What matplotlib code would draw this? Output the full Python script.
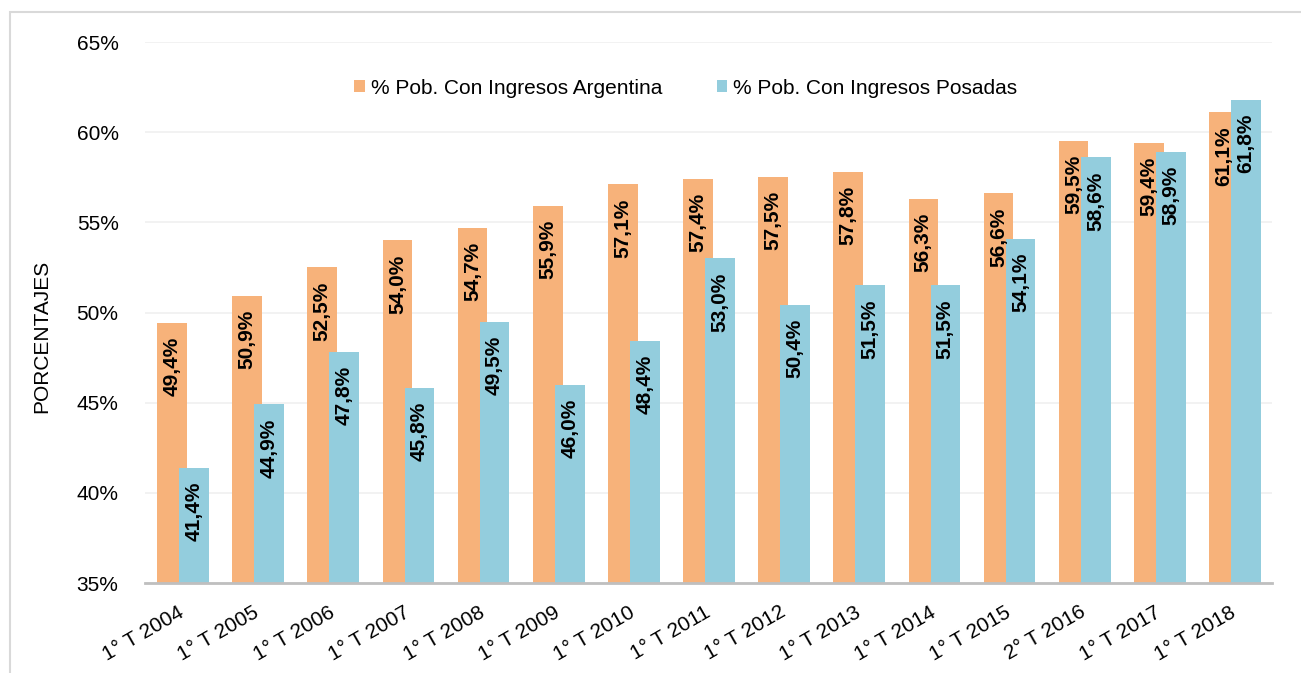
import matplotlib
matplotlib.use("Agg")
import matplotlib.pyplot as plt
import matplotlib.patches as mpatches
import numpy as np

plt.rcParams['font.family'] = ['Liberation Sans', 'DejaVu Sans']

# datos
periodos = ["1° T 2004", "1° T 2005", "1° T 2006", "1° T 2007", "1° T 2008",
            "1° T 2009", "1° T 2010", "1° T 2011", "1° T 2012", "1° T 2013",
            "1° T 2014", "1° T 2015", "2° T 2016", "1° T 2017", "1° T 2018"]
argentina = [49.4, 50.9, 52.5, 54.0, 54.7, 55.9, 57.1, 57.4, 57.5, 57.8,
             56.3, 56.6, 59.5, 59.4, 61.1]
posadas = [41.4, 44.9, 47.8, 45.8, 49.5, 46.0, 48.4, 53.0, 50.4, 51.5,
           51.5, 54.1, 58.6, 58.9, 61.8]
serie_arg = "% Pob. Con Ingresos Argentina"
serie_pos = "% Pob. Con Ingresos Posadas"

col_arg = "#F7B27A"
col_pos = "#93CDDD"

W, H = 1301, 673
fig = plt.figure(figsize=(W / 100, H / 100), dpi=100)
ax = fig.add_axes([145 / W, 1 - 583 / H, (1272 - 145) / W, (583 - 42) / H])

# borde gris del grafico
fig.patches.append(mpatches.Rectangle((10 / W, -0.1), 1.2, 1.1 - 12 / H,
                                      transform=fig.transFigure, fill=False,
                                      edgecolor="#D9D9D9", lw=1.5))

x = np.arange(len(periodos))
ancho = 0.395
b1 = ax.bar(x - 0.14, argentina, ancho, color=col_arg, label=serie_arg, zorder=2)
b2 = ax.bar(x + 0.153, posadas, ancho, color=col_pos, label=serie_pos, zorder=3)

for barras, vals in ((b1, argentina), (b2, posadas)):
    for r, v in zip(barras, vals):
        ax.annotate(f"{v:.1f}%".replace(".", ","),
                    xy=(r.get_x() + r.get_width() / 2, v),
                    xytext=(0, -10), textcoords="offset points",
                    ha="center", va="top", rotation=90,
                    fontsize=15, fontweight="bold", zorder=4)

ax.set_ylim(35, 65)
ax.set_xlim(-0.5, len(periodos) - 0.5)
ax.set_yticks(np.arange(35, 66, 5))
ax.set_yticklabels([f"{t}%" for t in range(35, 66, 5)])
ax.grid(axis="y", color="#F0F0F0", lw=1.2, zorder=0)
ax.set_axisbelow(True)
ax.tick_params(axis="both", length=0, labelsize=15)
ax.tick_params(axis="y", pad=19)
ax.set_xticks(x)
ax.set_xticklabels(periodos, rotation=30, ha="right", va="center",
                   rotation_mode="anchor")
ax.tick_params(axis="x", pad=20)
for s in ("top", "right", "left"):
    ax.spines[s].set_visible(False)
ax.spines["bottom"].set_color("#BFBFBF")
ax.spines["bottom"].set_linewidth(2)
ax.spines["bottom"].set_zorder(5)

fig.text(42 / W, 1 - 336 / H, "PORCENTAJES", rotation=90, ha="center",
         va="center", fontsize=15)

fig.legend(handles=[b1, b2], loc="center", bbox_to_anchor=(686 / W, 1 - 88 / H),
           ncol=2, frameon=False, fontsize=15, handlelength=0.5,
           handleheight=0.5, handletextpad=0.3, columnspacing=2.6)

fig.savefig("out.png", dpi=100)
